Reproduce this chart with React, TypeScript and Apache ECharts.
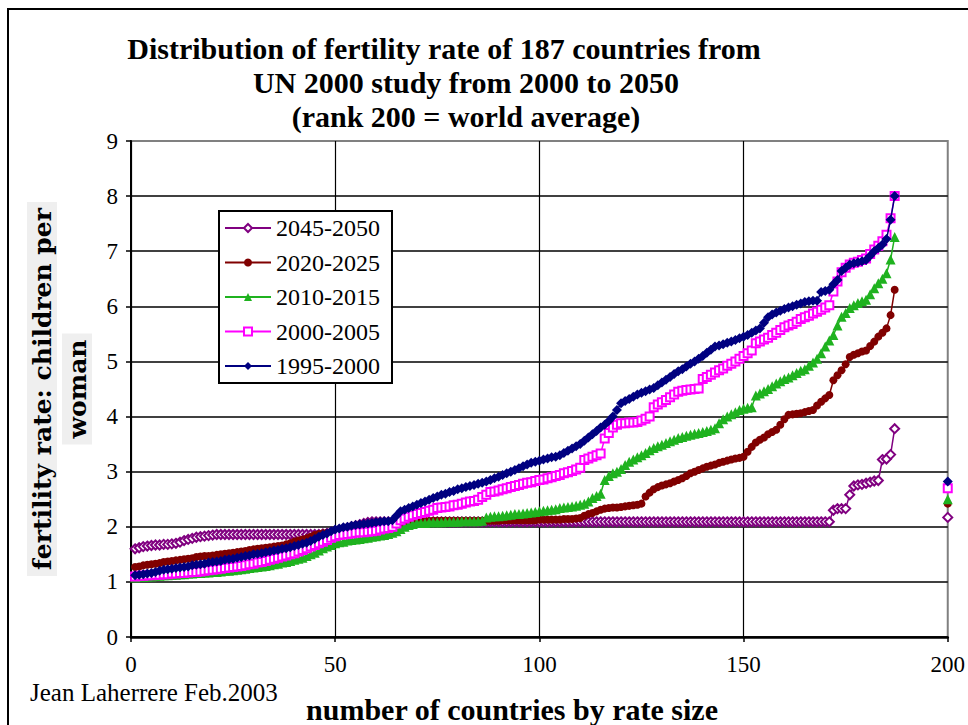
import React, { useEffect, useRef } from "react";
import * as echarts from "echarts";

// Legend / series order (also drawing order, last on top)
const SERIES_NAMES = ["2045-2050", "2020-2025", "2010-2015", "2000-2005", "1995-2000"];

// World average plotted at rank 200, same order as SERIES_NAMES
const WORLD_RANK = 200;
const WORLD_AVERAGE = [2.17, 2.42, 2.5, 2.7, 2.82];

const X_TICKS = [0, 50, 100, 150, 200];
const Y_TICKS = [0, 1, 2, 3, 4, 5, 6, 7, 8, 9];

// Fertility rate by rank (rank = index + 1), 187 countries
const tfr2045_2050 = [
  1.60, 1.62, 1.64, 1.65, 1.66, 1.67, 1.67, 1.68, 1.68, 1.69,
  1.70, 1.72, 1.75, 1.77, 1.79, 1.81, 1.82, 1.83, 1.84, 1.85,
  1.86, 1.86, 1.86, 1.86, 1.86, 1.86, 1.86, 1.86, 1.86, 1.86,
  1.86, 1.86, 1.86, 1.86, 1.86, 1.86, 1.86, 1.86, 1.86, 1.86,
  1.86, 1.86, 1.86, 1.86, 1.86, 1.86, 1.87, 1.88, 1.90, 1.92,
  1.94, 1.96, 1.98, 2.00, 2.02, 2.04, 2.06, 2.08, 2.09, 2.09,
  2.09, 2.09, 2.09, 2.09, 2.09, 2.09, 2.09, 2.09, 2.09, 2.09,
  2.09, 2.09, 2.09, 2.09, 2.09, 2.09, 2.09, 2.09, 2.09, 2.09,
  2.09, 2.09, 2.09, 2.09, 2.09, 2.09, 2.09, 2.09, 2.09, 2.09,
  2.09, 2.09, 2.09, 2.09, 2.09, 2.09, 2.09, 2.09, 2.09, 2.09,
  2.09, 2.09, 2.09, 2.09, 2.09, 2.09, 2.09, 2.09, 2.09, 2.09,
  2.09, 2.09, 2.09, 2.09, 2.09, 2.09, 2.09, 2.09, 2.09, 2.09,
  2.09, 2.09, 2.09, 2.09, 2.09, 2.09, 2.09, 2.09, 2.09, 2.09,
  2.09, 2.09, 2.09, 2.09, 2.09, 2.09, 2.09, 2.09, 2.09, 2.09,
  2.09, 2.09, 2.09, 2.09, 2.09, 2.09, 2.09, 2.09, 2.09, 2.09,
  2.09, 2.09, 2.09, 2.09, 2.09, 2.09, 2.09, 2.09, 2.09, 2.09,
  2.09, 2.09, 2.09, 2.09, 2.09, 2.09, 2.09, 2.09, 2.09, 2.09,
  2.09,
  2.30, 2.33, 2.33, 2.33, 2.58, 2.74, 2.76, 2.77, 2.79, 2.81,
  2.83, 2.84, 3.22, 3.23, 3.31, 3.78,
];

const tfr2020_2025 = [
  1.27, 1.28, 1.30, 1.31, 1.32, 1.33, 1.34, 1.36, 1.37, 1.38,
  1.39, 1.40, 1.41, 1.42, 1.43, 1.45, 1.46, 1.47, 1.47, 1.48,
  1.49, 1.50, 1.51, 1.52, 1.53, 1.54, 1.55, 1.56, 1.58, 1.59,
  1.60, 1.61, 1.62, 1.63, 1.64, 1.65, 1.66, 1.68, 1.70, 1.73,
  1.75, 1.77, 1.79, 1.82, 1.85, 1.87, 1.88, 1.89, 1.90, 1.93,
  1.95, 1.97, 1.98, 1.99, 2.00, 2.01, 2.02, 2.03, 2.04, 2.05,
  2.05, 2.06, 2.06, 2.07, 2.07, 2.08, 2.08, 2.09, 2.09, 2.10,
  2.10, 2.10, 2.10, 2.11, 2.11, 2.11, 2.11, 2.11, 2.11, 2.11,
  2.11, 2.11, 2.11, 2.11, 2.11, 2.11, 2.11, 2.11, 2.11, 2.11,
  2.12, 2.12, 2.12, 2.12, 2.12, 2.12, 2.12, 2.12, 2.12, 2.13,
  2.13, 2.13, 2.13, 2.13, 2.13, 2.14, 2.14, 2.14, 2.15, 2.16,
  2.20, 2.23, 2.25, 2.28, 2.31, 2.33, 2.34, 2.35, 2.35, 2.36,
  2.37, 2.38, 2.39, 2.40, 2.42, 2.55, 2.62, 2.68, 2.72, 2.75,
  2.77, 2.79, 2.82, 2.85, 2.88, 2.92, 2.97, 3.00, 3.03, 3.06,
  3.09, 3.11, 3.13, 3.16, 3.18, 3.20, 3.22, 3.24, 3.25, 3.27,
  3.36, 3.45, 3.53, 3.58, 3.62, 3.68, 3.72, 3.76, 3.85, 3.95,
  4.03, 4.04, 4.05, 4.06, 4.08, 4.10, 4.12, 4.20, 4.27, 4.33,
  4.39, 4.66, 4.75, 4.84, 4.95, 5.08, 5.12, 5.15, 5.18, 5.20,
  5.28, 5.36, 5.45, 5.52, 5.60, 5.84, 6.30,
];

const tfr2010_2015 = [
  1.08, 1.09, 1.09, 1.10, 1.10, 1.11, 1.11, 1.12, 1.12, 1.13,
  1.13, 1.14, 1.14, 1.15, 1.15, 1.16, 1.16, 1.17, 1.17, 1.18,
  1.18, 1.19, 1.20, 1.20, 1.21, 1.22, 1.23, 1.24, 1.25, 1.26,
  1.27, 1.28, 1.29, 1.30, 1.32, 1.33, 1.35, 1.36, 1.38, 1.40,
  1.42, 1.44, 1.47, 1.50, 1.53, 1.57, 1.61, 1.64, 1.67, 1.70,
  1.72, 1.73, 1.75, 1.76, 1.77, 1.78, 1.79, 1.80, 1.82, 1.83,
  1.84, 1.85, 1.87, 1.89, 1.92, 1.96, 2.00, 2.03, 2.05, 2.07,
  2.07, 2.07, 2.08, 2.08, 2.08, 2.08, 2.09, 2.09, 2.09, 2.09,
  2.10, 2.10, 2.10, 2.10, 2.10, 2.11, 2.17, 2.18, 2.19, 2.19,
  2.20, 2.21, 2.22, 2.23, 2.23, 2.24, 2.25, 2.26, 2.27, 2.28,
  2.29, 2.30, 2.31, 2.32, 2.34, 2.35, 2.36, 2.37, 2.38, 2.40,
  2.42, 2.46, 2.52, 2.56, 2.60, 2.85, 2.92, 2.97, 3.00, 3.05,
  3.12, 3.18, 3.22, 3.26, 3.30, 3.34, 3.39, 3.43, 3.46, 3.49,
  3.52, 3.55, 3.58, 3.61, 3.63, 3.65, 3.67, 3.69, 3.70, 3.72,
  3.74, 3.76, 3.79, 3.88, 3.95, 4.00, 4.04, 4.08, 4.12, 4.14,
  4.16, 4.17, 4.38, 4.42, 4.46, 4.50, 4.55, 4.60, 4.64, 4.68,
  4.71, 4.75, 4.79, 4.83, 4.86, 4.92, 4.98, 5.05, 5.15, 5.27,
  5.38, 5.48, 5.65, 5.81, 5.88, 5.97, 6.02, 6.06, 6.09, 6.12,
  6.22, 6.33, 6.42, 6.50, 6.60, 6.85, 7.26,
];

const tfr2000_2005 = [
  1.10, 1.11, 1.11, 1.12, 1.12, 1.13, 1.13, 1.14, 1.14, 1.15,
  1.15, 1.16, 1.16, 1.17, 1.18, 1.18, 1.19, 1.20, 1.21, 1.22,
  1.23, 1.24, 1.25, 1.26, 1.27, 1.28, 1.29, 1.30, 1.32, 1.33,
  1.35, 1.36, 1.38, 1.40, 1.42, 1.44, 1.46, 1.48, 1.50, 1.52,
  1.55, 1.58, 1.61, 1.64, 1.67, 1.70, 1.73, 1.76, 1.80, 1.83,
  1.85, 1.86, 1.87, 1.88, 1.89, 1.90, 1.90, 1.91, 1.92, 1.93,
  1.95, 1.97, 1.98, 2.00, 2.06, 2.12, 2.15, 2.18, 2.21, 2.23,
  2.25, 2.27, 2.29, 2.31, 2.34, 2.35, 2.36, 2.37, 2.39, 2.40,
  2.42, 2.44, 2.46, 2.47, 2.49, 2.54, 2.58, 2.63, 2.64, 2.66,
  2.68, 2.70, 2.72, 2.74, 2.76, 2.78, 2.80, 2.81, 2.83, 2.85,
  2.86, 2.88, 2.90, 2.92, 2.94, 2.97, 2.99, 3.01, 3.04, 3.07,
  3.21, 3.24, 3.27, 3.30, 3.33, 3.60, 3.70, 3.80, 3.85, 3.88,
  3.88, 3.89, 3.89, 3.90, 3.93, 3.96, 4.00, 4.17, 4.22, 4.26,
  4.30, 4.35, 4.40, 4.45, 4.47, 4.48, 4.49, 4.50, 4.51, 4.68,
  4.72, 4.76, 4.80, 4.84, 4.87, 4.92, 4.96, 5.00, 5.05, 5.10,
  5.15, 5.20, 5.33, 5.36, 5.40, 5.43, 5.48, 5.52, 5.57, 5.62,
  5.65, 5.68, 5.72, 5.77, 5.80, 5.83, 5.87, 5.90, 5.94, 5.98,
  6.02, 6.27, 6.45, 6.62, 6.70, 6.76, 6.79, 6.81, 6.84, 6.87,
  6.95, 7.03, 7.10, 7.18, 7.30, 7.60, 8.00,
];

const tfr1995_2000 = [
  1.12, 1.13, 1.14, 1.15, 1.16, 1.18, 1.20, 1.22, 1.23, 1.24,
  1.25, 1.26, 1.27, 1.28, 1.30, 1.31, 1.32, 1.33, 1.35, 1.36,
  1.37, 1.38, 1.40, 1.41, 1.42, 1.44, 1.45, 1.47, 1.48, 1.50,
  1.51, 1.52, 1.54, 1.55, 1.57, 1.58, 1.60, 1.61, 1.63, 1.65,
  1.67, 1.69, 1.71, 1.74, 1.78, 1.82, 1.85, 1.88, 1.92, 1.95,
  1.97, 1.99, 2.00, 2.02, 2.03, 2.04, 2.05, 2.06, 2.07, 2.08,
  2.09, 2.10, 2.10, 2.12, 2.20, 2.28, 2.31, 2.34, 2.37, 2.40,
  2.43, 2.46, 2.49, 2.52, 2.55, 2.58, 2.60, 2.63, 2.65, 2.68,
  2.70, 2.72, 2.74, 2.76, 2.78, 2.80, 2.82, 2.85, 2.88, 2.91,
  2.94, 2.97, 3.00, 3.03, 3.06, 3.10, 3.13, 3.16, 3.18, 3.20,
  3.22, 3.24, 3.26, 3.27, 3.30, 3.34, 3.38, 3.42, 3.46, 3.50,
  3.56, 3.62, 3.68, 3.74, 3.80, 3.85, 3.92, 4.00, 4.12, 4.24,
  4.28, 4.32, 4.36, 4.40, 4.43, 4.46, 4.49, 4.52, 4.57, 4.62,
  4.67, 4.72, 4.77, 4.82, 4.86, 4.91, 4.96, 5.00, 5.05, 5.10,
  5.16, 5.21, 5.27, 5.29, 5.31, 5.34, 5.36, 5.39, 5.42, 5.45,
  5.48, 5.52, 5.56, 5.60, 5.70, 5.80, 5.85, 5.89, 5.92, 5.95,
  5.98, 6.00, 6.03, 6.05, 6.08, 6.09, 6.10, 6.10, 6.26, 6.28,
  6.30, 6.40, 6.48, 6.64, 6.70, 6.76, 6.78, 6.80, 6.82, 6.84,
  6.92, 7.00, 7.06, 7.12, 7.22, 7.57, 8.00,
];

const SERIES_VALUES = [tfr2045_2050, tfr2020_2025, tfr2010_2015, tfr2000_2005, tfr1995_2000];

const TITLE_LINES = [
  "Distribution of fertility rate of 187 countries from",
  "UN 2000 study from 2000 to 2050",
  "(rank 200 = world average)",
];
const Y_TITLE_LINES = ["fertility rate: children per", "woman"];
const X_TITLE = "number of countries by rate size";
const CREDIT = "Jean Laherrere Feb.2003";

// Styles
const COLORS = ["#800080", "#800000", "#1fb21f", "#ff00ff", "#000080"];
const SYMBOLS = ["emptyDiamond", "circle", "triangle", "emptyRect", "diamond"];
const SYMBOL_SIZES = [9, 8, 10, 8, 10];
const SERIF = "Liberation Serif, Times New Roman, serif";
const SLAB = "DejaVu Serif, serif";

export default function App() {
  const ref = useRef<HTMLDivElement>(null);

  useEffect(() => {
    if (!ref.current) return;
    const chart = echarts.init(ref.current, undefined, { renderer: "svg" });

    const series = SERIES_NAMES.map((name, si) => {
      const pts: any[] = SERIES_VALUES[si].map((v, i) => [i + 1, v]);
      pts.push([188, "-"]);
      pts.push([WORLD_RANK, WORLD_AVERAGE[si]]);
      const empty = SYMBOLS[si].startsWith("empty");
      return {
        type: "line",
        name,
        data: pts,
        symbol: SYMBOLS[si],
        symbolSize: SYMBOL_SIZES[si],
        showAllSymbol: true,
        connectNulls: false,
        color: COLORS[si],
        lineStyle: { color: COLORS[si], width: 1.5 },
        itemStyle: empty
          ? { color: COLORS[si], borderColor: COLORS[si], borderWidth: 1.8 }
          : { color: COLORS[si] },
        emphasis: { disabled: true },
        z: 2 + si,
      };
    });

    const titleGraphics = TITLE_LINES.map((t, i) => ({
      type: "text",
      x: i === 0 ? 444 : 466,
      y: 48 + i * 34,
      style: {
        text: t,
        fontFamily: SERIF,
        fontSize: 30,
        fontWeight: "bold",
        fill: "#000",
        align: "center",
        verticalAlign: "middle",
        textAlign: "center",
        textVerticalAlign: "middle",
      },
    }));

    const yTitleGraphics = Y_TITLE_LINES.map((t, i) => ({
      type: "text",
      x: i === 0 ? 42 : 77,
      y: 389,
      rotation: Math.PI / 2,
      style: {
        text: t,
        fontFamily: SLAB,
        fontSize: 25,
        fontWeight: "bold",
        fill: "#000",
        align: "center",
        verticalAlign: "middle",
        textAlign: "center",
        textVerticalAlign: "middle",
        backgroundColor: "#efefef",
        padding: [3, 6, 2, 6],
      },
    }));

    chart.setOption({
      animation: false,
      backgroundColor: "#ffffff",
      grid: {
        left: 131,
        top: 141,
        width: 818,
        height: 496,
        show: true,
        borderColor: "#808080",
        borderWidth: 2,
        backgroundColor: "transparent",
      },
      legend: {
        data: SERIES_NAMES,
        orient: "vertical",
        left: 219,
        top: 211,
        padding: [5, 12, 5, 5],
        itemGap: 10.5,
        itemWidth: 46,
        itemHeight: 10,
        backgroundColor: "#ffffff",
        borderColor: "#000",
        borderWidth: 2,
        selectedMode: false,
        textStyle: { fontFamily: SERIF, fontSize: 24, color: "#000" },
        z: 20,
      },
      xAxis: {
        type: "value",
        min: X_TICKS[0],
        max: X_TICKS[X_TICKS.length - 1],
        interval: 50,
        axisLine: { show: true, onZero: false, lineStyle: { color: "#000", width: 2.5 } },
        axisTick: { show: true, length: 5, lineStyle: { color: "#000", width: 1.5 } },
        axisLabel: { fontFamily: SERIF, fontSize: 23, color: "#000", margin: 16 },
        splitLine: { show: true, showMaxLine: false, lineStyle: { color: "#000", width: 1.2 } },
      },
      yAxis: {
        type: "value",
        min: Y_TICKS[0],
        max: Y_TICKS[Y_TICKS.length - 1],
        interval: 1,
        axisLine: { show: true, onZero: false, lineStyle: { color: "#000", width: 2 } },
        axisTick: { show: true, length: 5, lineStyle: { color: "#000", width: 1.5 } },
        axisLabel: { fontFamily: SERIF, fontSize: 23, color: "#000", margin: 13 },
        splitLine: { show: true, showMaxLine: false, lineStyle: { color: "#000", width: 1.6 } },
      },
      graphic: [
        {
          type: "rect",
          shape: { x: 8, y: 9, width: 1000, height: 1000 },
          style: { fill: "none", stroke: "#000", lineWidth: 2 },
          silent: true,
          z: 0,
        },
        ...titleGraphics,
        ...yTitleGraphics,
        {
          type: "text",
          x: 512,
          y: 709,
          style: {
            text: X_TITLE,
            fontFamily: SERIF,
            fontSize: 30,
            fontWeight: "bold",
            fill: "#000",
            align: "center",
            verticalAlign: "middle",
            textAlign: "center",
            textVerticalAlign: "middle",
          },
        },
        {
          type: "text",
          x: 30,
          y: 692,
          style: {
            text: CREDIT,
            fontFamily: SERIF,
            fontSize: 25,
            fill: "#000",
            align: "left",
            verticalAlign: "middle",
            textAlign: "left",
            textVerticalAlign: "middle",
          },
        },
      ],
      series,
    });

    return () => chart.dispose();
  }, []);

  return (
    <div
      ref={ref}
      style={{ position: "absolute", left: 0, top: 0, width: 968, height: 725, background: "#fff" }}
    />
  );
}
